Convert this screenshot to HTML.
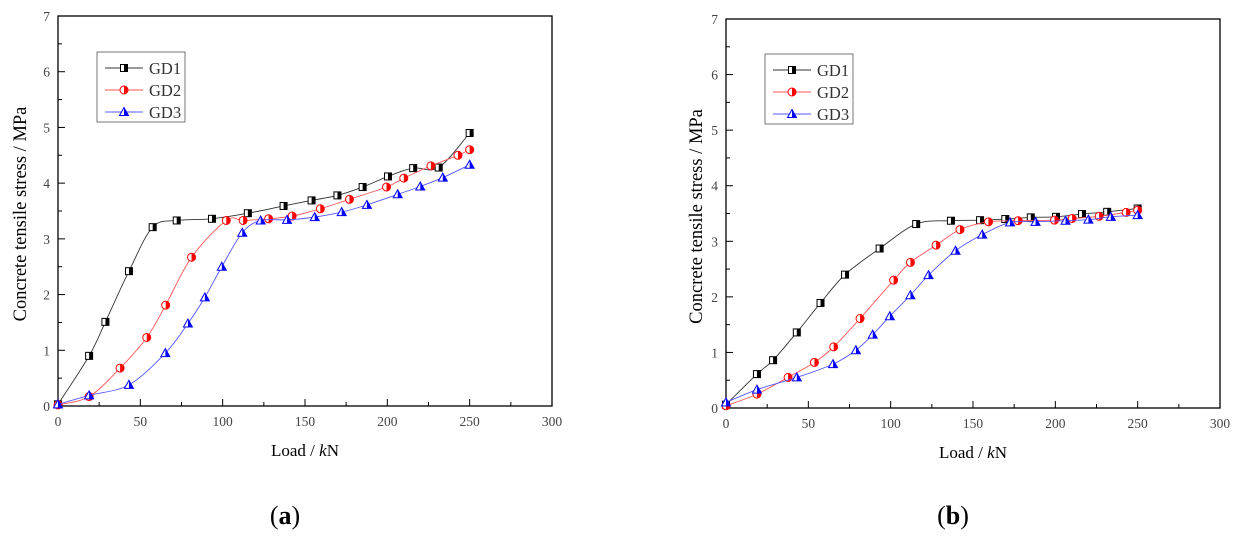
<!DOCTYPE html>
<html><head><meta charset="utf-8"><style>
body{margin:0;background:#fff;width:1242px;height:544px;overflow:hidden}
svg text{font-family:"Liberation Serif",serif}
</style></head><body>
<svg id="s" width="1242" height="544"></svg>
<script>
const xTicks=[0,50,100,150,200,250,300];
const yTicks=[0,1,2,3,4,5,6,7];
const seriesNames=["GD1","GD2","GD3"];
const aGD1x=[0,18.9,28.8,43.1,57.5,72.1,93.5,115.3,137,154,169.7,185,200.4,215.7,231.2,250];
const aGD1y=[0.03,0.90,1.51,2.42,3.21,3.33,3.36,3.46,3.59,3.69,3.78,3.93,4.12,4.27,4.28,4.90];
const aGD2x=[0,18.9,37.7,53.9,65.4,81.1,102.2,112.4,127.9,142.2,159.3,177,199.5,210,226.5,242.9,250];
const aGD2y=[0.02,0.17,0.68,1.23,1.81,2.67,3.33,3.33,3.36,3.41,3.54,3.71,3.93,4.09,4.31,4.50,4.60];
const aGD3x=[0,18.9,43.1,65.2,78.9,89.2,99.5,111.9,123.1,139.1,155.9,172.3,187.6,206.3,220,233.7,250];
const aGD3y=[0.03,0.19,0.38,0.95,1.48,1.95,2.50,3.11,3.33,3.34,3.39,3.48,3.61,3.80,3.94,4.10,4.33];
const bGD1x=[0,18.8,28.6,43,57.4,72.3,93.3,115.5,136.6,154.3,169.6,185.1,200.4,216.2,231.5,250];
const bGD1y=[0.06,0.61,0.86,1.36,1.89,2.40,2.87,3.31,3.37,3.38,3.40,3.43,3.44,3.49,3.53,3.59];
const bGD2x=[0,18.8,37.7,53.7,65.4,81.4,101.8,112,127.6,142.1,159.4,177.4,199.5,210.2,226.6,243,250];
const bGD2y=[0.04,0.25,0.55,0.82,1.10,1.61,2.30,2.62,2.93,3.21,3.35,3.37,3.38,3.41,3.45,3.52,3.56];
const bGD3x=[0,18.8,43,65,78.9,89.1,99.5,112,123,139.4,155.6,172.5,188,206.2,220.1,233.7,250];
const bGD3y=[0.10,0.33,0.55,0.79,1.04,1.32,1.65,2.03,2.39,2.83,3.12,3.34,3.35,3.37,3.39,3.44,3.47];

const NS="http://www.w3.org/2000/svg";
const svg=document.getElementById('s');
function mk(tag,attrs,parent,text){const e=document.createElementNS(NS,tag);for(const k in attrs)e.setAttribute(k,attrs[k]);if(text!==undefined)e.textContent=text;(parent||svg).appendChild(e);return e;}
const lineCol=["#333","#f55","#55f"];
function marker(g,k,x,y){
  if(k===0){mk('rect',{x:x-3.5,y:y-3.5,width:7,height:7,fill:'#fff',stroke:'#000','stroke-width':1},g);mk('rect',{x:x,y:y-3.5,width:3.5,height:7,fill:'#000'},g);}
  else if(k===1){mk('circle',{cx:x,cy:y,r:4,fill:'#fff',stroke:'#f00','stroke-width':1},g);mk('path',{d:`M${x},${y-4}A4,4 0 0 1 ${x},${y+4}Z`,fill:'#f00'},g);}
  else{mk('path',{d:`M${x},${y-4.5}L${x+4.5},${y+3.5}L${x-4.5},${y+3.5}Z`,fill:'#fff',stroke:'#00f','stroke-width':1},g);mk('path',{d:`M${x},${y-4.5}L${x+4.5},${y+3.5}L${x},${y+3.5}Z`,fill:'#00f'},g);}
}
function spline(p){let d=`M${p[0][0]},${p[0][1]}`;for(let i=0;i<p.length-1;i++){const p0=p[Math.max(i-1,0)],p1=p[i],p2=p[i+1],p3=p[Math.min(i+2,p.length-1)];
 d+=`C${p1[0]+(p2[0]-p0[0])/6},${p1[1]+(p2[1]-p0[1])/6} ${p2[0]-(p3[0]-p1[0])/6},${p2[1]-(p3[1]-p1[1])/6} ${p2[0]},${p2[1]}`;}return d;}
function panel(id,L,R,T,B,series,leg,ylx,cap){
  const g=mk('g',{},svg);
  
  
  const X=v=>L+(R-L)*v/300, Y=v=>B-(B-T)*v/7;
  mk('rect',{x:L,y:T,width:R-L,height:B-T,fill:'none',stroke:'#000','stroke-width':1.3},g);
  for(let v=0;v<=300;v+=25){const maj=v%50===0;mk('line',{x1:X(v),x2:X(v),y1:B,y2:B-(maj?7:4),stroke:'#000'},g);}
  for(let v=0;v<=7;v+=0.5){const maj=v%1===0;mk('line',{x1:L,x2:L+(maj?7:4),y1:Y(v),y2:Y(v),stroke:'#000'},g);}
  xTicks.forEach(v=>{const t=mk('text',{x:X(v),y:B+20,'text-anchor':'middle','font-size':13.5,fill:'#444'},g,v);});
  yTicks.forEach(v=>{const t=mk('text',{x:L-8,y:Y(v)+5,'text-anchor':'end','font-size':13.5,fill:'#444'},g,v);});
  const xt=mk('text',{x:(L+R)/2,y:B+50,'text-anchor':'middle','font-size':17},g);
  
  xt.innerHTML='Load / <tspan font-style="italic">k</tspan>N';
  const yt=mk('text',{x:0,y:0,'text-anchor':'middle','font-size':18.5,transform:`translate(${ylx},${(T+B)/2+3}) rotate(-90)`},g,'Concrete tensile stress / MPa');
  
  series.forEach((s,k)=>{
    const sg=mk('g',{},g);
    
    
    const pts=s[0].map((x,i)=>[X(x),Y(s[1][i])]);
    mk('path',{d:spline(pts),fill:'none',stroke:lineCol[k],'stroke-width':0.9},sg);
    pts.forEach(p=>marker(sg,k,p[0],p[1]));
  });
  const lg=mk('g',{},g);
  
  mk('rect',{x:leg[0],y:leg[1],width:88,height:70,fill:'#fff',stroke:'#555','stroke-width':0.8},lg);
  seriesNames.forEach((n,k)=>{const yy=leg[1]+16+k*22;
    mk('line',{x1:leg[0]+8,x2:leg[0]+46,y1:yy,y2:yy,stroke:lineCol[k],'stroke-width':0.9},lg);
    marker(lg,k,leg[0]+27,yy);
    const t=mk('text',{x:leg[0]+52,y:yy+6,'font-size':16.5,fill:'#333'},lg,n);
    });
  const c=mk('text',{x:(L+R)/2-20,y:524,'text-anchor':'middle','font-size':26},g);
  
  c.innerHTML=`(<tspan font-weight="bold">${cap}</tspan>)`;
}
panel('a',58,552,16,406,[[aGD1x,aGD1y],[aGD2x,aGD2y],[aGD3x,aGD3y]],[97,52],26,'a');
panel('b',726,1220,19,408,[[bGD1x,bGD1y],[bGD2x,bGD2y],[bGD3x,bGD3y]],[765,54],702,'b');
</script>
</body></html>
